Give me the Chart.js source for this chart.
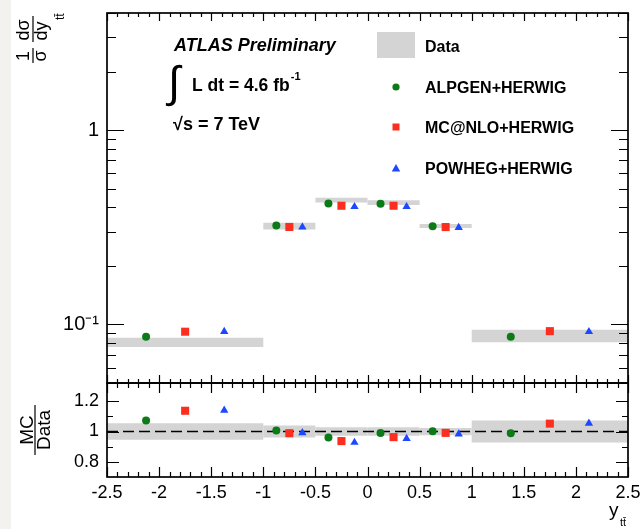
<!DOCTYPE html>
<html><head><meta charset="utf-8">
<script src="https://cdn.jsdelivr.net/npm/chart.js@4.4.1/dist/chart.umd.min.js"></script>
<style>
html,body{margin:0;padding:0;background:#fff;}
#wrap{position:relative;width:644px;height:529px;overflow:hidden;background:#fff;}
#strip{position:absolute;left:0;top:0;width:11px;height:529px;background:#f3f2ee;}
canvas{position:absolute;left:0;top:0;}
</style></head><body>
<div id="wrap"><div id="strip"></div><canvas id="cTop" width="644" height="529"></canvas><canvas id="cRatio" width="644" height="529"></canvas></div>
<script>
// ---------------- data ----------------
const binLow  = [-2.5, -1.0, -0.5, 0.0, 0.5, 1.0];
const binHigh = [-1.0, -0.5,  0.0, 0.5, 1.0, 2.5];
const dataValues = [0.0811, 0.321, 0.436, 0.424, 0.321, 0.0875];
const dataRelUnc = [0.055, 0.040, 0.028, 0.028, 0.024, 0.073];

const alpgenX  = [-2.125, -0.875, -0.375, 0.125, 0.625, 1.375];
const mcatnloX = [-1.75, -0.75, -0.25, 0.25, 0.75, 1.75];
const powhegX  = [-1.375, -0.625, -0.125, 0.375, 0.875, 2.125];

const alpgenValues  = [0.0865, 0.3228, 0.419, 0.4177, 0.320, 0.0865];
const mcatnloValues = [0.0918, 0.3174, 0.408, 0.408, 0.317, 0.0924];
const powhegValues  = [0.0920, 0.3170, 0.4035, 0.4035, 0.315, 0.0918];

const alpgenRatio  = [1.072, 1.007, 0.961, 0.991, 1.002, 0.989];
const mcatnloRatio = [1.137, 0.989, 0.937, 0.963, 0.991, 1.052];
const powhegRatio  = [1.140, 0.991, 0.928, 0.954, 0.983, 1.054];

const xTickValues = [-2.5, -2, -1.5, -1, -0.5, 0, 0.5, 1, 1.5, 2, 2.5];
const topYTickValues = [0.1, 1];
const topYTickLabels = ['10\u207B\u00B9', '1'];
const topYMinorValues = [0.05, 0.06, 0.07, 0.08, 0.09, 0.2, 0.3, 0.4, 0.5, 0.6, 0.7, 0.8, 0.9, 2, 3, 4];
const ratioYTickValues = [0.8, 1, 1.2];
const ratioYTickLabels = ['0.8', '1', '1.2'];
const ratioYMinorValues = [0.9, 1.1];

const legendLabels = ['Data', 'ALPGEN+HERWIG', 'MC@NLO+HERWIG', 'POWHEG+HERWIG'];

// ---------------- styles ----------------
const FONT = 'Liberation Sans';
const BAND = '#d4d4d4';
const GREEN = '#0b7a17';
const RED = '#fb2e1f';
const BLUE = '#1c48ff';
Chart.defaults.font.family = FONT;
Chart.defaults.color = '#000';

function bandDatasets(yAxisID, lows, highs) {
  return binLow.map((lo, i) => ({
    type: 'line', yAxisID, order: 5,
    data: [{x: lo, y: highs[i]}, {x: binHigh[i], y: highs[i]}, {x: binHigh[i], y: lows[i]}, {x: lo, y: lows[i]}],
    fill: 'shape', backgroundColor: BAND, borderColor: 'rgba(0,0,0,0)', borderWidth: 0,
    pointRadius: 0, tension: 0
  }));
}
function markerDataset(yAxisID, xs, ys, style, radius, color) {
  return {
    type: 'scatter', yAxisID, order: 1, showLine: false,
    data: xs.map((x, i) => ({x, y: ys[i]})),
    pointStyle: style, pointRadius: radius, pointBackgroundColor: color,
    pointBorderWidth: 0, pointBorderColor: color, pointHoverRadius: radius
  };
}
function noPad(s) { s.paddingTop = 0; s.paddingBottom = 0; s.paddingLeft = 0; s.paddingRight = 0; }

function framePlugin(cfg) {
  return {
    id: 'frame_' + cfg.name,
    afterDatasetsDraw(chart) {
      const {ctx, chartArea: a} = chart;
      const xs = chart.scales.x, ys = chart.scales.y;
      ctx.save();
      ctx.strokeStyle = '#000';
      ctx.lineWidth = 1.2;
      ctx.beginPath();
      for (let i = 0; i <= 50; i++) {
        const v = -2.5 + i * 0.1;
        const len = (i % 5 === 0) ? cfg.xMajor : cfg.xMinor;
        const px = Math.round(xs.getPixelForValue(v)) + 0.5;
        ctx.moveTo(px, a.bottom); ctx.lineTo(px, a.bottom - len);
        ctx.moveTo(px, a.top); ctx.lineTo(px, a.top + len);
      }
      const yt = (v, len) => {
        const py = Math.round(ys.getPixelForValue(v)) + 0.5;
        ctx.moveTo(a.left, py); ctx.lineTo(a.left + len, py);
        ctx.moveTo(a.right, py); ctx.lineTo(a.right - len, py);
      };
      cfg.yMajorValues.forEach(v => yt(v, cfg.yMajor));
      cfg.yMinorValues.forEach(v => yt(v, cfg.yMinor));
      ctx.stroke();
      ctx.lineWidth = 1.7;
      ctx.strokeRect(a.left, a.top, a.right - a.left, a.bottom - a.top);
      ctx.restore();
    }
  };
}

// ---------------- top panel texts ----------------
const topText = {
  id: 'topText',
  afterDraw(chart) {
    const ctx = chart.ctx;
    ctx.save();
    ctx.fillStyle = '#000';
    ctx.textBaseline = 'alphabetic';
    ctx.textAlign = 'left';
    ctx.font = 'italic bold 18px ' + FONT;
    ctx.fillText('ATLAS Preliminary', 174, 51);
    ctx.font = '44px ' + FONT;
    ctx.fillText('\u222B', 168, 97);
    ctx.font = 'bold 17.5px ' + FONT;
    const lum = 'L dt = 4.6 fb';
    ctx.fillText(lum, 192, 91);
    const w = ctx.measureText(lum).width;
    ctx.font = 'bold 11px ' + FONT;
    ctx.fillText('-1', 192 + w + 1, 80);
    ctx.font = 'bold 18px ' + FONT;
    ctx.fillText('\u221As = 7 TeV', 173, 130);

    // legend
    ctx.fillStyle = BAND;
    ctx.fillRect(377, 32, 38, 26);
    ctx.fillStyle = '#000';
    ctx.font = 'bold 16px ' + FONT;
    ctx.fillText(legendLabels[0], 425, 52);
    ctx.fillText(legendLabels[1], 425, 93);
    ctx.fillText(legendLabels[2], 425, 133);
    ctx.fillText(legendLabels[3], 425, 174);
    ctx.fillStyle = GREEN;
    ctx.beginPath(); ctx.arc(396, 87, 3.6, 0, Math.PI * 2); ctx.fill();
    ctx.fillStyle = RED;
    ctx.fillRect(392.5, 123.5, 7, 7);
    ctx.fillStyle = BLUE;
    ctx.beginPath(); ctx.moveTo(396, 164); ctx.lineTo(400.2, 171.5); ctx.lineTo(391.8, 171.5); ctx.closePath(); ctx.fill();

    // y title
    ctx.fillStyle = '#000';
    ctx.strokeStyle = '#000';
    ctx.lineWidth = 1.2;
    ctx.translate(33, 64);
    ctx.rotate(-Math.PI / 2);
    ctx.textAlign = 'center';
    ctx.font = '18px ' + FONT;
    ctx.fillText('1', 8, -4);
    ctx.fillText('\u03C3', 8, 13);
    ctx.beginPath(); ctx.moveTo(1, 0); ctx.lineTo(16, 0); ctx.stroke();
    ctx.fillText('d\u03C3', 34, -4);
    ctx.fillText('dy', 33, 14);
    ctx.beginPath(); ctx.moveTo(22, 0); ctx.lineTo(48, 0); ctx.stroke();
    ctx.textAlign = 'left';
    ctx.font = '12px ' + FONT;
    ctx.fillText('tt\u0304', 44, 31);
    ctx.restore();
  }
};

const ratioText = {
  id: 'ratioText',
  afterDraw(chart) {
    const ctx = chart.ctx;
    ctx.save();
    ctx.fillStyle = '#000';
    ctx.strokeStyle = '#000';
    ctx.font = '19px ' + FONT;
    ctx.textAlign = 'left';
    ctx.textBaseline = 'alphabetic';
    ctx.fillText('y', 609, 516);
    ctx.font = '11px ' + FONT;
    ctx.fillText('tt\u0304', 620, 526);
    ctx.translate(35, 430);
    ctx.rotate(-Math.PI / 2);
    ctx.textAlign = 'center';
    ctx.font = '19px ' + FONT;
    ctx.fillText('MC', 0, -2);
    ctx.fillText('Data', 0, 15);
    ctx.lineWidth = 1.2;
    ctx.beginPath(); ctx.moveTo(-25, 0); ctx.lineTo(25, 0); ctx.stroke();
    ctx.restore();
  }
};

// ---------------- top chart ----------------
const topLows = dataValues.map((v, i) => v * (1 - dataRelUnc[i]));
const topHighs = dataValues.map((v, i) => v * (1 + dataRelUnc[i]));

new Chart(document.getElementById('cTop'), {
  type: 'scatter',
  data: {
    datasets: [
      ...bandDatasets('y', topLows, topHighs),
      markerDataset('y', alpgenX, alpgenValues, 'circle', 4, GREEN),
      markerDataset('y', mcatnloX, mcatnloValues, 'rect', 5.7, RED),
      markerDataset('y', powhegX, powhegValues, 'triangle', 4.8, BLUE)
    ]
  },
  options: {
    responsive: false, animation: false, devicePixelRatio: 1,
    layout: {padding: {top: 13, right: 16, bottom: 146, left: 0}},
    plugins: {legend: {display: false}, tooltip: {enabled: false}},
    scales: {
      x: {type: 'linear', min: -2.5, max: 2.5, display: false},
      y: {
        type: 'logarithmic', min: 0.05, max: 4,
        grid: {display: false, drawTicks: false}, border: {display: false},
        afterFit(s) { s.width = 107; noPad(s); },
        afterBuildTicks(s) { s.ticks = topYTickValues.map(v => ({value: v})); },
        ticks: {
          callback: (v) => topYTickLabels[topYTickValues.indexOf(v)] ?? '',
          font: {family: FONT, size: 20}, color: '#000', padding: 8
        }
      }
    }
  },
  plugins: [framePlugin({name: 'top', xMajor: 8, xMinor: 4, yMajor: 17, yMinor: 9,
    yMajorValues: topYTickValues, yMinorValues: topYMinorValues}), topText]
});

// ---------------- ratio chart ----------------
const ratioLows = dataRelUnc.map(u => 1 - u);
const ratioHighs = dataRelUnc.map(u => 1 + u);

new Chart(document.getElementById('cRatio'), {
  type: 'scatter',
  data: {
    datasets: [
      ...bandDatasets('y', ratioLows, ratioHighs),
      {type: 'line', yAxisID: 'y', order: 3, data: [{x: -2.5, y: 1}, {x: 2.5, y: 1}],
       borderColor: '#000', borderWidth: 1.3, borderDash: [11, 5], pointRadius: 0, fill: false},
      markerDataset('y', alpgenX, alpgenRatio, 'circle', 4, GREEN),
      markerDataset('y', mcatnloX, mcatnloRatio, 'rect', 5.7, RED),
      markerDataset('y', powhegX, powhegRatio, 'triangle', 4.8, BLUE)
    ]
  },
  options: {
    responsive: false, animation: false, devicePixelRatio: 1,
    layout: {padding: {top: 383, right: 16, bottom: 0, left: 0}},
    plugins: {legend: {display: false}, tooltip: {enabled: false}},
    scales: {
      x: {
        type: 'linear', min: -2.5, max: 2.5,
        grid: {display: false, drawTicks: false}, border: {display: false},
        afterFit(s) { s.height = 52; noPad(s); },
        afterBuildTicks(s) { s.ticks = xTickValues.map(v => ({value: v})); },
        ticks: {font: {family: FONT, size: 18}, color: '#000', padding: 5, maxRotation: 0, autoSkip: false,
                callback: (v) => String(v)}
      },
      y: {
        type: 'linear', min: 0.7, max: 1.32,
        grid: {display: false, drawTicks: false}, border: {display: false},
        afterFit(s) { s.width = 107; noPad(s); },
        afterBuildTicks(s) { s.ticks = ratioYTickValues.map(v => ({value: v})); },
        ticks: {
          callback: (v) => ratioYTickLabels[ratioYTickValues.indexOf(v)] ?? '',
          font: {family: FONT, size: 18}, color: '#000', padding: 8
        }
      }
    }
  },
  plugins: [framePlugin({name: 'ratio', xMajor: 10, xMinor: 5, yMajor: 12, yMinor: 6,
    yMajorValues: ratioYTickValues, yMinorValues: ratioYMinorValues}), ratioText]
});
</script></body></html>
